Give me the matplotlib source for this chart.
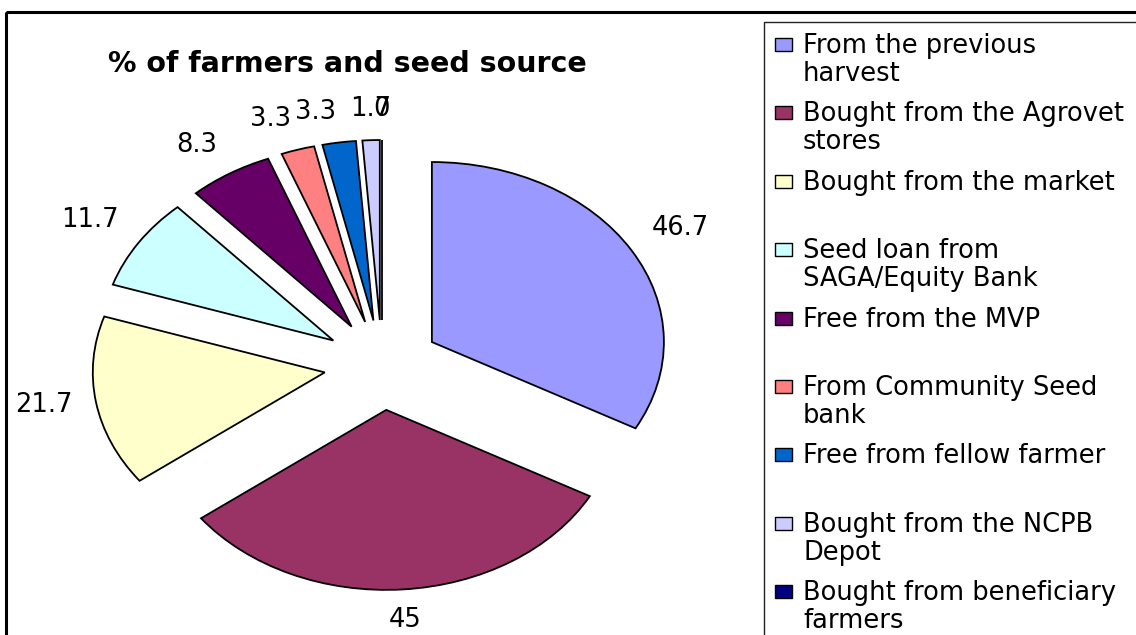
import matplotlib
matplotlib.use("Agg")
import matplotlib.pyplot as plt
from matplotlib.patches import Rectangle
import numpy as np

# data (percent of farmers per seed source)
sources = [
    "From the previous\nharvest",
    "Bought from the Agrovet\nstores",
    "Bought from the market",
    "Seed loan from\nSAGA/Equity Bank",
    "Free from the MVP",
    "From Community Seed\nbank",
    "Free from fellow farmer",
    "Bought from the NCPB\nDepot",
    "Bought from beneficiary\nfarmers",
]
percent = [46.7, 45, 21.7, 11.7, 8.3, 3.3, 3.3, 1.7, 0]
colors = ["#9999FF", "#993366", "#FFFFCC", "#CCFFFF", "#660066",
          "#FF8080", "#0066CC", "#CCCCFF", "#000080"]
title = "% of farmers and seed source"

W, H = 1136, 635
fig = plt.figure(figsize=(W / 100, H / 100), dpi=100)

# pie axes: the original picture is stretched sideways, so the pie is an ellipse
cx, cy, rx, ry = 382, 365, 232, 180
ax = fig.add_axes([0, 0, 1, 1])
wedges, texts = ax.pie(percent, explode=[0.25] * len(percent), colors=colors,
                       startangle=90, counterclock=False,
                       labels=[f"{v:g}" for v in percent], labeldistance=1.1,
                       wedgeprops=dict(edgecolor="black", linewidth=1.3),
                       textprops=dict(fontsize=18.5, color="black"))
ax.set_aspect("auto")
ax.set_xlim(-cx / rx, (W - cx) / rx)
ax.set_ylim((cy - H) / ry, cy / ry)
ax.axis("off")

# Excel-like label anchoring: text sits outside the wedge end
for w, t in zip(wedges, texts):
    th = np.deg2rad((w.theta1 + w.theta2) / 2)
    c, s = np.cos(th), np.sin(th)
    t.set_ha("center" if abs(c) < 0.1 else ("left" if c > 0 else "right"))
    t.set_va("bottom" if s > 0.3 else ("top" if s < -0.3 else "center"))

# overlay in pixel coordinates for frame, title and legend
lay = fig.add_axes([0, 0, 1, 1])
lay.set_xlim(0, W)
lay.set_ylim(H, 0)
lay.axis("off")

lay.add_patch(Rectangle((6, 12), W + 20, H + 20, fill=False, lw=2.2, ec="black"))
lay.text(347, 72, title, ha="center", va="baseline", fontsize=20.5, fontweight="bold")

# legend box, Excel spreads entries evenly
lay.add_patch(Rectangle((764, 22), W, H, fill=False, lw=1.0, ec="#222222"))
slot = 68.4
for i, (lab, col) in enumerate(zip(sources, colors)):
    base = 53 + i * slot
    lay.add_patch(Rectangle((775, base - 15), 17, 13, fc=col, ec="black", lw=1.0))
    for k, line in enumerate(lab.split("\n")):
        lay.text(803, base + k * 28, line, ha="left", va="baseline", fontsize=18.5)

fig.savefig("out.png", dpi=100)
